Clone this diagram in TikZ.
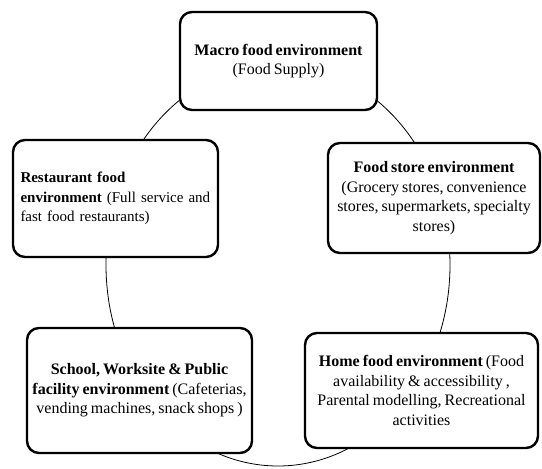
\documentclass[tikz,border=0pt]{standalone}
\usepackage{fontspec}
\setmainfont{Liberation Serif}[WordSpace=0.75]
\begin{document}
\begin{tikzpicture}[x=1pt, y=-1pt,
                    envbox/.style={draw, line width=2.4pt, rounded corners=12pt, fill=white, align=center, font=\fontsize{16}{19.5}\selectfont}]
                    \useasboundingbox (0,0) rectangle (542,469);
                    \draw[line width=0.8pt] (278,265) ellipse [x radius=172, y radius=201];
                    \node[envbox, minimum width=197, minimum height=98] (macro) at (278.5,61)
                        {\textbf{Macro food environment}\\(Food Supply)};
                    \node[envbox, minimum width=205, minimum height=117, text width=190, align=left, inner xsep=7,
                          font=\fontsize{15}{19.5}\selectfont] (restaurant) at (115.5,198.5)
                        {\textbf{Restaurant food}\\\textbf{environment} (Full service and\\fast food restaurants)};
                    \node[envbox, minimum width=212, minimum height=110] (store) at (434,198)
                        {\textbf{Food store environment}\\(Grocery stores, convenience\\stores, supermarkets, specialty\\stores)};
                    \node[envbox, minimum width=225, minimum height=125] (school) at (139.5,390.5)
                        {\textbf{School, Worksite \& Public}\\\textbf{facility environment} (Cafeterias,\\vending machines, snack shops )};
                    \node[envbox, minimum width=233, minimum height=115] (home) at (421.5,390.5)
                        {\textbf{Home food environment} (Food\\availability \& accessibility ,\\Parental modelling, Recreational\\activities};
                \end{tikzpicture}
\end{document}
